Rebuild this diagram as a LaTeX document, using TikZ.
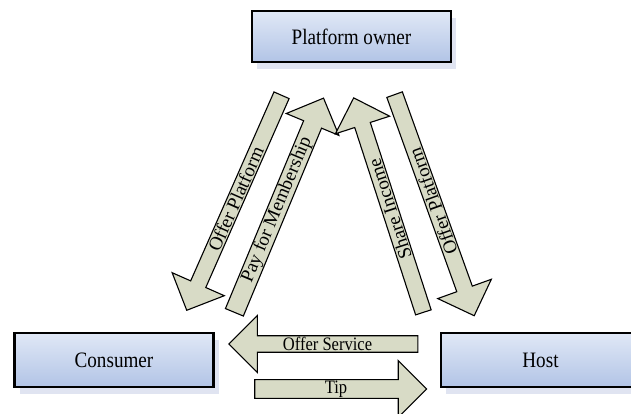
\documentclass[tikz,border=0pt]{standalone}
\usepackage{fontspec}
\setmainfont{Liberation Serif}
\newfontfamily\narrowserif{Liberation Serif}[FakeStretch=0.87]
\usetikzlibrary{shapes.arrows,shadows}

\definecolor{boxtop}{RGB}{224,232,246}
\definecolor{boxbottom}{RGB}{178,196,230}
\definecolor{boxshadow}{RGB}{224,228,241}
\definecolor{arrowfill}{RGB}{216,219,198}

\tikzstyle{party}=[%
	draw = black,
	line width = 2.4pt,
	top color = boxtop,
	bottom color = boxbottom,
	minimum width = 199pt,
	minimum height = 53.5pt,
	inner sep = 0pt,
	font = \narrowserif\fontsize{22}{26}\selectfont,
	drop shadow = {shadow xshift=5pt, shadow yshift=-7pt, fill=boxshadow, opacity=1}
]
\tikzstyle{flow}=[%
	single arrow,
	draw = black,
	fill = arrowfill,
	line width = 1.1pt,
	single arrow tip angle = 90,
	single arrow head extend = 18pt,
	minimum width = 57pt,
	inner xsep = 2pt,
	inner ysep = 0pt,
	font = \fontsize{19}{21}\selectfont
]
\tikzstyle{flat}=[font = \narrowserif\fontsize{19}{21}\selectfont]

\begin{document}
\begin{tikzpicture}[x=1pt, y=-1pt]
	% Background, frame
	\fill[white] (0,0) rectangle (631,414);
	\clip (0,0) rectangle (631,414);

	% Parties
	\node[party, minimum height=50.6pt] (owner) at (351.5,36.5) {Platform owner};
	\node[party] (consumer) at (114,360) {Consumer};
	\node[party] (host) at (540.5,360) {Host};

	% Flows to and from the owner
	\foreach \name/\x/\y/\len/\ang/\turn/\txt in {%
		offerleft/235.8/199/235/66.2/180/Offer Platform,
		pay/277.1/209.7/232/67.4/0/Pay for Membership,
		share/389.8/209/225.5/108/0/Share Income,
		offerright/433/201.3/235/109.8/180/Offer Platform} {
		\node[flow, minimum height=\len, rotate=\ang, shape border rotate=\turn] (\name) at (\x,\y) {\txt};
	}

	% Flows between consumer and host
	\node[flow, flat, minimum height=189, shape border rotate=180] (service) at (327.5,344) {Offer Service};
	\node[flow, flat, minimum height=172] (tipflow) at (336,389) {Tip};

\end{tikzpicture}
\end{document}
